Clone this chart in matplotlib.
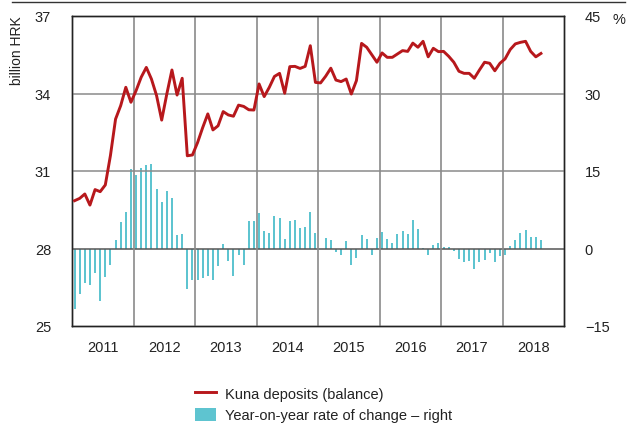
import numpy as np
import matplotlib
matplotlib.use("Agg")
import matplotlib.pyplot as plt
from matplotlib.lines import Line2D
from matplotlib.patches import Patch

# Monthly data, January 2011 - August 2018
years = ["2011", "2012", "2013", "2014", "2015", "2016", "2017", "2018"]

kuna_deposits = [
    # 2011
    29.85, 29.94, 30.11, 29.68, 30.28, 30.20, 30.46, 31.60, 33.01, 33.53, 34.24, 33.66,
    # 2012
    34.11, 34.63, 35.01, 34.56, 33.92, 32.97, 33.98, 34.91, 33.94, 34.59, 31.59, 31.62,
    # 2013
    32.10, 32.68, 33.21, 32.59, 32.75, 33.30, 33.17, 33.12, 33.55, 33.50, 33.37, 33.36,
    # 2014
    34.37, 33.88, 34.24, 34.66, 34.78, 34.01, 35.04, 35.05, 34.97, 35.05, 35.85, 34.43,
    # 2015
    34.41, 34.67, 34.98, 34.52, 34.46, 34.56, 33.98, 34.50, 35.94, 35.79, 35.50, 35.21,
    # 2016
    35.57, 35.40, 35.40, 35.53, 35.66, 35.63, 35.95, 35.79, 36.02, 35.42, 35.75, 35.62,
    # 2017
    35.63, 35.44, 35.21, 34.86, 34.78, 34.78, 34.59, 34.91, 35.21, 35.17, 34.88, 35.17,
    # 2018
    35.34, 35.70, 35.92, 35.98, 36.02, 35.63, 35.42, 35.55,
]

yoy_change = [
    # 2011
    -11.8, -8.8, -6.6, -7.1, -4.7, -10.1, -5.5, -3.2, 1.7, 5.2, 7.1, 15.3,
    # 2012
    14.2, 15.6, 16.1, 16.3, 11.5, 9.0, 11.1, 9.8, 2.6, 2.8, -7.9, -6.1,
    # 2013
    -6.0, -5.8, -5.4, -6.0, -3.3, 0.9, -2.5, -5.4, -1.3, -3.2, 5.4, 5.3,
    # 2014
    6.8, 3.4, 3.0, 6.3, 5.9, 1.9, 5.4, 5.6, 3.9, 4.2, 7.1, 3.0,
    # 2015
    0.0, 2.1, 1.7, -0.6, -1.3, 1.5, -3.1, -1.8, 2.6, 1.9, -1.2, 2.1,
    # 2016
    3.2, 1.9, 1.1, 2.8, 3.4, 2.8, 5.6, 3.7, 0.1, -1.2, 0.6, 1.0,
    # 2017
    0.2, 0.2, -0.5, -2.1, -2.6, -2.5, -3.9, -2.6, -2.3, -0.8, -2.6, -1.4,
    # 2018
    -1.2, 0.5, 1.7, 3.0, 3.5, 2.3, 2.2, 1.6,
]

left_ticks = [25, 28, 31, 34, 37]
right_ticks = [-15, 0, 15, 30, 45]
right_labels = ["\u221215", "0", "15", "30", "45"]

RED = "#b7181c"
TEAL = "#5ec4d0"
GRID = "#8a8a8a"

plt.rcParams["font.family"] = ["Liberation Sans Narrow", "Liberation Sans", "DejaVu Sans"]

fig = plt.figure(figsize=(6.36, 4.27), dpi=100)
ax = fig.add_axes([72 / 636, 1 - 327 / 427, 492 / 636, 310 / 427])
ax2 = ax.twinx()

x_months = np.arange(len(kuna_deposits)) + 0.5
x_bars = np.arange(len(yoy_change)) + 0.5

# Bars on the right-hand axis, drawn beneath the line
ax2.bar(x_bars, yoy_change, width=0.4, color=TEAL, zorder=2)
ax2.set_ylim(-15, 45)
ax2.set_yticks(right_ticks)
ax2.set_yticklabels(right_labels)

ax.set_zorder(ax2.get_zorder() + 1)
ax.patch.set_visible(False)
ax.plot(x_months, kuna_deposits, color=RED, lw=2.1, zorder=5)
ax.set_ylim(25, 37)
ax.set_yticks(left_ticks)
ax.set_xlim(0, 12 * len(years))

# Year boundaries as grid lines, year names centred in each year
ax.set_xticks(np.arange(12, 12 * len(years), 12))
ax.set_xticklabels([])
ax.set_xticks(np.arange(6, 12 * len(years), 12), minor=True)
ax.set_xticklabels(years, minor=True)
ax.tick_params(axis="x", which="both", length=0)
ax.tick_params(axis="x", which="minor", pad=10, labelsize=10.5, labelcolor="#222222")
ax.tick_params(axis="y", length=0, pad=15, labelsize=10.5, labelcolor="#222222")
ax2.tick_params(axis="y", length=0, pad=15, labelsize=10.5, labelcolor="#222222")

for v in [28, 31, 34]:
    ax.axhline(v, color=GRID if v != 28 else "#555555", lw=1.1, zorder=1)
for xv in np.arange(12, 12 * len(years), 12):
    ax.axvline(xv, color=GRID, lw=1.2, zorder=1)

for a in (ax, ax2):
    for s in a.spines.values():
        s.set_color("#222222")
        s.set_linewidth(1.0)

fig.text(0.027, 0.963, "billion HRK", rotation=90, ha="center", va="top",
         fontsize=10, color="#222222")
fig.text(0.963, 0.952, "%", ha="left", va="center", fontsize=10.5, color="#222222")

# Rule across the top of the figure
fig.add_artist(Line2D([12 / 636, 625 / 636], [1 - 3 / 427, 1 - 3 / 427],
                      color="#333333", lw=1.0, transform=fig.transFigure))

handles = [Line2D([0], [0], color=RED, lw=2.1),
           Patch(facecolor=TEAL, edgecolor="none")]
fig.legend(handles, ["Kuna deposits (balance)", "Year-on-year rate of change \u2013 right"],
           loc="upper left", bbox_to_anchor=(188 / 636, 1 - 380 / 427),
           frameon=False, fontsize=10.5, handlelength=1.45, handleheight=1.05,
           handletextpad=0.6, labelspacing=0.45, borderpad=0.0,
           labelcolor="#222222")

fig.savefig("out.png", dpi=100)
